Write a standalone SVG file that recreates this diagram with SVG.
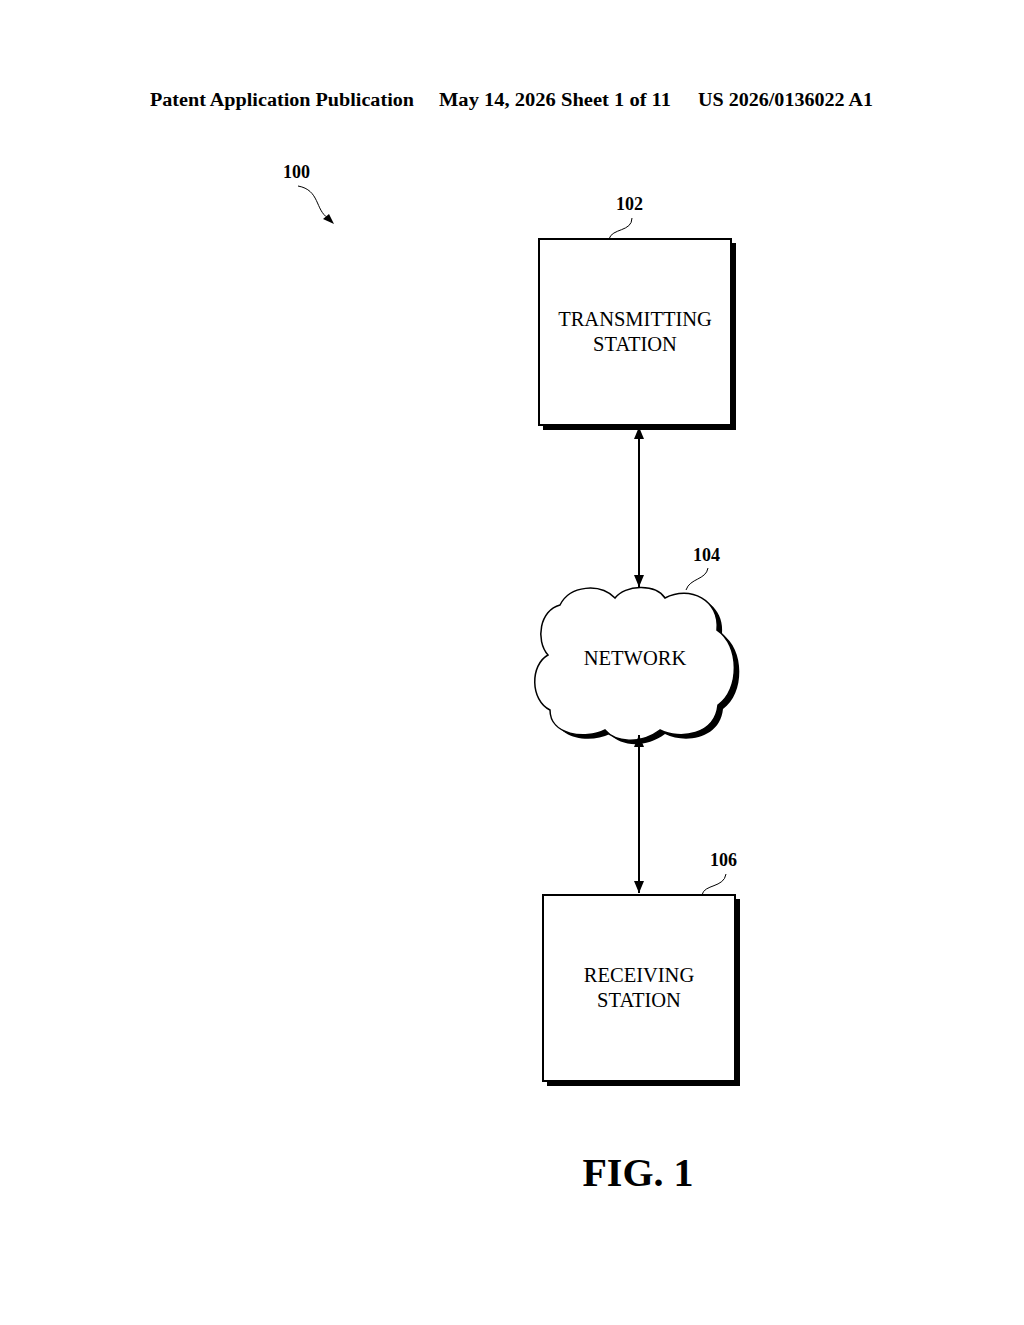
<svg xmlns="http://www.w3.org/2000/svg" width="1024" height="1325" viewBox="0 0 1024 1325">
<style>
.hdr{font-family:"Liberation Serif",serif;font-weight:bold;font-size:18px}
.lbl{font-family:"Liberation Serif",serif;font-weight:bold;font-size:18px}
.t{font-family:"Liberation Serif",serif;font-size:20.5px;text-anchor:middle}
.box{fill:#fff;stroke:#000;stroke-width:2}
.sh{fill:#000}
.ld{fill:none;stroke:#000;stroke-width:1}
</style>
<defs>
<marker id="a" markerWidth="12" markerHeight="18" refX="12" refY="5" orient="auto-start-reverse" markerUnits="userSpaceOnUse" viewBox="0 0 12 10"><path d="M0,0 L12,5 L0,10 z" fill="#000"/></marker>
</defs>
<rect width="1024" height="1325" fill="#fff"/>
<text class="hdr" x="150" y="106" textLength="264" lengthAdjust="spacingAndGlyphs">Patent Application Publication</text>
<text class="hdr" x="439" y="106" textLength="232" lengthAdjust="spacingAndGlyphs">May 14, 2026  Sheet 1 of 11</text>
<text class="hdr" x="698" y="106" textLength="175" lengthAdjust="spacingAndGlyphs">US 2026/0136022 A1</text>
<g id="ref100">
<text class="lbl" x="283" y="178">100</text>
<path class="ld" d="M298,186 C320,190 315,210 328,218"/>
<path d="M334,224 L323,219 L329,214 z" fill="#000"/>
</g>
<g id="n102">
<rect class="sh" x="543" y="243" width="193" height="187"/>
<rect class="box" x="539" y="239" width="192" height="186"/>
<text class="t" x="635" y="326">TRANSMITTING</text>
<text class="t" x="635" y="351">STATION</text>
<text class="lbl" x="616" y="210">102</text>
<path class="ld" d="M609,239 C612,228 632,232 632,218"/>
</g>
<g id="n104">
<path transform="translate(5,4)" fill="#000" d="M560,605 C570,585 600,583 615,598 C625,585 655,583 665,598 C690,585 720,600 717,630 C740,645 740,690 718,705 C715,735 680,740 660,730 C640,745 615,742 605,730 C585,740 550,735 550,710 C530,700 530,665 548,655 C535,640 540,610 560,605 z"/>
<path fill="#fff" stroke="#000" stroke-width="1.5" d="M560,605 C570,585 600,583 615,598 C625,585 655,583 665,598 C690,585 720,600 717,630 C740,645 740,690 718,705 C715,735 680,740 660,730 C640,745 615,742 605,730 C585,740 550,735 550,710 C530,700 530,665 548,655 C535,640 540,610 560,605 z"/>
<text class="t" x="635" y="665">NETWORK</text>
<text class="lbl" x="693" y="561">104</text>
<path class="ld" d="M686,590 C690,578 706,580 708,568"/>
</g>
<g id="n106">
<rect class="sh" x="547" y="899" width="193" height="187"/>
<rect class="box" x="543" y="895" width="192" height="186"/>
<text class="t" x="639" y="982">RECEIVING</text>
<text class="t" x="639" y="1007">STATION</text>
<text class="lbl" x="710" y="866">106</text>
<path class="ld" d="M702,895 C704,884 724,888 726,874"/>
</g>
<g id="connectors" stroke="#000" stroke-width="2">
<line x1="639" y1="427" x2="639" y2="587" marker-start="url(#a)" marker-end="url(#a)"/>
<line x1="639" y1="735" x2="639" y2="893" marker-start="url(#a)" marker-end="url(#a)"/>
</g>
<text x="638" y="1186" style="font-family:'Liberation Serif',serif;font-weight:bold;font-size:40px;text-anchor:middle">FIG. 1</text>
</svg>
